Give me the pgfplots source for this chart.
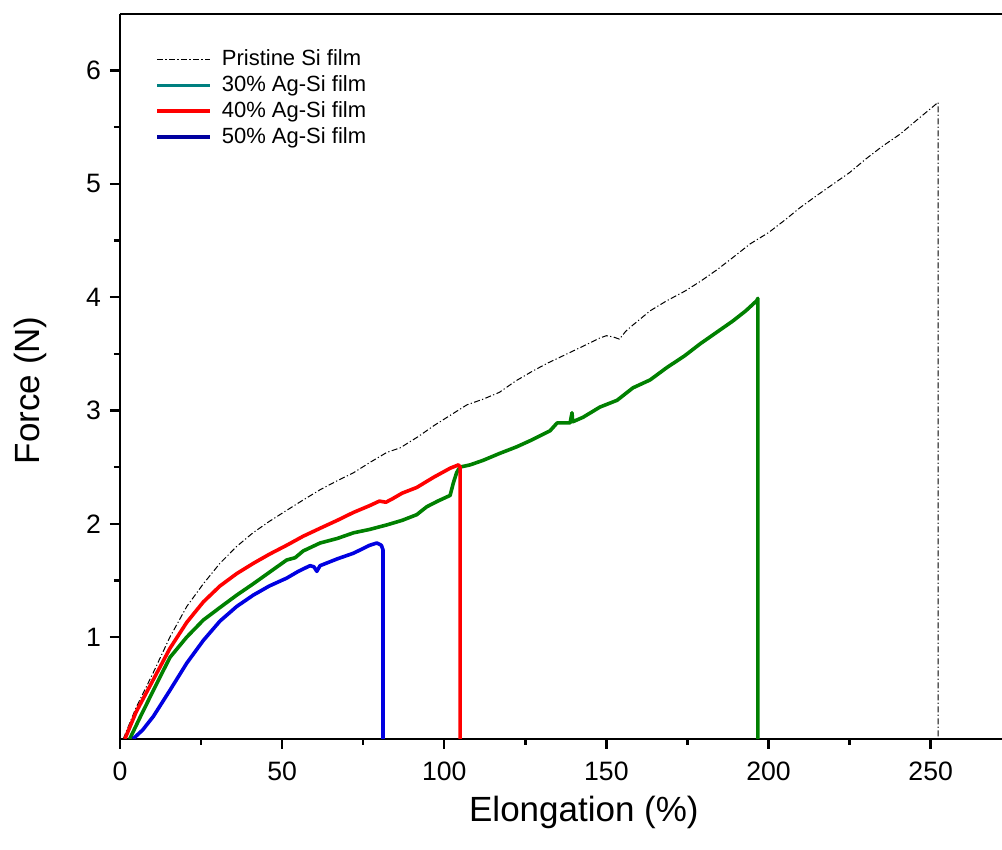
\documentclass[border=0pt]{standalone}
\usepackage{pgfplots}
\pgfplotsset{compat=1.18}
\usepackage{fontspec}
\setmainfont{Liberation Sans}
\definecolor{cgreen}{RGB}{0,128,0}
\definecolor{cteal}{RGB}{0,128,128}
\definecolor{cred}{RGB}{255,0,0}
\definecolor{cblue}{RGB}{0,0,225}
\definecolor{cdblue}{RGB}{0,0,160}
\begin{document}
\begin{tikzpicture}
\begin{axis}[
  scale only axis,
  width=441pt, height=362.5pt,
  xmin=0, xmax=272, ymin=0.1, ymax=6.5,
  axis lines=left,
  axis line style={-, line width=1.3pt},
  xtick={0,50,100,150,200,250},
  ytick={1,2,3,4,5,6},
  minor x tick num=1, minor y tick num=1,
  tick align=outside,
  major tick length=5pt, minor tick length=3pt,
  every tick/.style={black, line width=1.2pt},
  /pgf/number format/assume math mode=true,
  ticklabel style={font=\fontsize{13.3}{15}\selectfont},
  xticklabel style={yshift=-3pt},
  yticklabel style={xshift=-1pt},
  xlabel={Elongation (\%)},
  ylabel={Force (N)},
  label style={font=\fontsize{17.5}{20}\selectfont},
  xlabel style={at={(rel axis cs:0.526,0)}, anchor=north, yshift=-25pt},
  ylabel style={at={(rel axis cs:-0.102,0.481)}, anchor=center},
  clip=true,
  every axis plot/.append style={line join=round},
  legend cell align=left,
  legend style={draw=none, fill=none, at={(rel axis cs:0.035,0.962)}, anchor=north west,
    font=\fontsize{11}{13}\selectfont, row sep=-0.5pt, inner sep=2pt},
  legend image code/.code={\draw[#1] (0pt,0pt) -- (26.5pt,0pt); \path (29.5pt,0pt);},
]
\coordinate (SW) at (rel axis cs:0,0);
\coordinate (NE) at (rel axis cs:1,1);
% Pristine Si film
\addplot[black, line width=0.5pt, dash pattern=on 3pt off 1.2pt on 0.6pt off 1.2pt, forget plot] coordinates {
(1,0.1) (5,0.38) (10,0.67) (15.4,1.0) (20.6,1.27) (25.7,1.47) (30.8,1.65) (36,1.8) (41,1.92) (46,2.02) (51.5,2.12) (56.5,2.21) (61.7,2.30) (67,2.38) (72,2.45) (77,2.54) (82.3,2.63) (86.4,2.67) (92,2.77) (97,2.87) (102,2.96) (107,3.05) (112,3.10) (117,3.16) (122,3.26) (127.4,3.35) (132,3.42) (137.9,3.50) (143,3.57) (148,3.64) (150,3.66) (152,3.65) (154,3.63) (156,3.70) (158,3.75) (163.5,3.88) (168.7,3.97) (174,4.05) (179,4.14) (184,4.24) (189,4.35) (194.3,4.47) (200,4.57) (205,4.68) (209.7,4.79) (215,4.90) (220,5.0) (225,5.10) (230,5.22) (235,5.33) (240.6,5.44) (246,5.57) (252.3,5.72) (252.3,0)
};
% 30% Ag-Si
\addplot[cgreen, line width=1.8pt, forget plot] coordinates {
(3,0.1) (6,0.28) (10.3,0.53) (15.4,0.82) (20.6,1.0) (25.7,1.15) (30.8,1.26) (36,1.37) (41.1,1.47) (46,1.57) (51.4,1.68) (54,1.70) (56.5,1.76) (61.7,1.83) (67,1.87) (72,1.92) (77,1.95) (82.3,1.99) (87,2.03) (91.5,2.08) (94.6,2.15) (98,2.20) (101.8,2.25) (102.8,2.36) (103.8,2.45) (104.8,2.50) (108,2.52) (112,2.56) (117,2.62) (122.4,2.68) (127,2.74) (132.6,2.82) (134.8,2.89) (138.8,2.89) (139.4,2.98) (139.6,2.90) (142.8,2.94) (148,3.03) (153.3,3.09) (158.2,3.20) (163.5,3.27) (168.7,3.38) (174,3.48) (179,3.59) (184,3.69) (189,3.79) (193,3.88) (196.4,3.97) (196.7,3.99) (196.7,0)
};
% 40% Ag-Si
\addplot[cred, line width=1.8pt, forget plot] coordinates {
(1.5,0.1) (5,0.34) (10.2,0.62) (15.4,0.90) (20.6,1.13) (25.7,1.31) (30.8,1.45) (36,1.56) (41.1,1.65) (46,1.73) (51.4,1.81) (56.5,1.89) (61.7,1.96) (67,2.03) (72,2.10) (77,2.16) (80,2.20) (82,2.19) (84,2.22) (87,2.27) (91.5,2.32) (96.7,2.41) (101.8,2.49) (104.4,2.52) (104.9,2.50) (104.9,0)
};
% 50% Ag-Si
\addplot[cblue, line width=1.8pt, forget plot] coordinates {
(4,0.1) (7,0.18) (10.3,0.30) (15.4,0.53) (20.6,0.77) (25.7,0.97) (30.8,1.14) (36,1.27) (41.1,1.37) (46,1.45) (51.4,1.52) (55,1.58) (58.6,1.63) (59.8,1.62) (60.7,1.58) (61.7,1.63) (67,1.69) (72,1.74) (77,1.81) (79.2,1.83) (80.6,1.81) (81.1,1.77) (81.1,0)
};
\addlegendimage{black, line width=0.5pt, dash pattern=on 3pt off 1.2pt on 0.6pt off 1.2pt}
\addlegendentry{Pristine Si film}
\addlegendimage{cteal, line width=1.8pt}
\addlegendentry{30\% Ag-Si film}
\addlegendimage{cred, line width=1.8pt}
\addlegendentry{40\% Ag-Si film}
\addlegendimage{cdblue, line width=1.8pt}
\addlegendentry{50\% Ag-Si film}
\end{axis}
\draw[line width=1.3pt] (SW |- NE) -- (NE);
\pgfresetboundingbox
\path[use as bounding box] ([xshift=-60pt,yshift=-55.5pt]SW) rectangle ([yshift=7pt]NE);
\end{tikzpicture}
\end{document}
